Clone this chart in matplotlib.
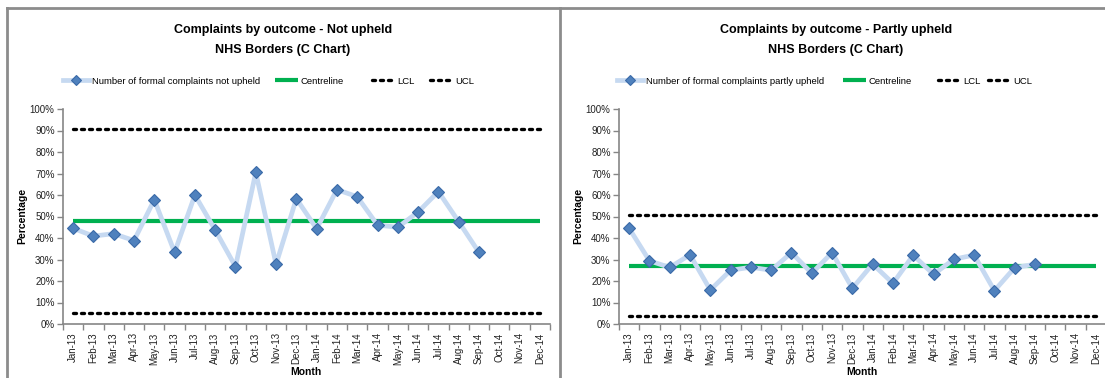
import matplotlib.pyplot as plt
from matplotlib.lines import Line2D
from matplotlib.ticker import FuncFormatter, FixedLocator

# bulan (Jan-13 .. Dec-14)
months = ['Jan-13', 'Feb-13', 'Mar-13', 'Apr-13', 'May-13', 'Jun-13',
          'Jul-13', 'Aug-13', 'Sep-13', 'Oct-13', 'Nov-13', 'Dec-13',
          'Jan-14', 'Feb-14', 'Mar-14', 'Apr-14', 'May-14', 'Jun-14',
          'Jul-14', 'Aug-14', 'Sep-14', 'Oct-14', 'Nov-14', 'Dec-14']

# persentase keluhan (data sampai Sep-14)
not_upheld = [44.5, 40.9, 42.0, 38.8, 57.8, 33.3, 60.0, 43.7, 26.7, 70.5,
              27.8, 58.3, 44.3, 62.5, 59.2, 46.0, 45.0, 52.1, 61.6, 47.6, 33.3]
partly_upheld = [44.5, 29.4, 26.3, 32.2, 15.8, 25.0, 26.4, 25.0, 33.2, 23.6,
                 33.2, 16.6, 27.9, 18.9, 32.0, 23.1, 30.1, 32.1, 15.5, 26.2, 27.8]

# garis tengah dan batas kontrol
not_upheld_limits = {'centre': 47.7, 'lcl': 5.0, 'ucl': 90.5}
partly_upheld_limits = {'centre': 27.0, 'lcl': 3.7, 'ucl': 50.7}

W, H = 1105, 378
fig = plt.figure(figsize=(W / 100, H / 100), dpi=100)

FONT = 'Liberation Sans'
AXIS_GREY = '#868686'


def px(x, y):
    # pixel dari kiri-atas -> koordinat figure
    return x / W, 1 - y / H


def add_entry(handle, label, x, hl=2.4):
    # satu entri legenda per posisi, seperti tata letak Excel
    fig.legend([handle], [label], loc='center left',
               bbox_to_anchor=px(x, 81), bbox_transform=fig.transFigure,
               frameon=False, handlelength=hl, handletextpad=0.3,
               borderpad=0, borderaxespad=0, markerscale=0.8,
               prop={'family': FONT, 'size': 6.8})


def draw_chart(left_px, values, limits, title, series_label, legend_x, centre_x):
    ax = fig.add_axes([left_px / W, 54 / H, 487 / W, 215 / H])
    n = len(months)
    xs = list(range(n))

    ucl, = ax.plot(xs, [limits['ucl']] * n, color='black', lw=2.4,
                   dashes=(0.9, 1.5), dash_capstyle='round')
    lcl, = ax.plot(xs, [limits['lcl']] * n, color='black', lw=2.4,
                   dashes=(0.9, 1.5), dash_capstyle='round')
    centre, = ax.plot(xs, [limits['centre']] * n, color='#00B050', lw=3,
                      solid_capstyle='butt')
    data, = ax.plot(xs[:len(values)], values, color='#C6D9F1', lw=3.4,
                    marker='D', markersize=6, markerfacecolor='#4F81BD',
                    markeredgecolor='#3A6AA8', markeredgewidth=0.8)

    ax.set_xlim(-0.5, n - 0.5)
    ax.set_ylim(0, 100)
    ax.set_yticks(range(0, 101, 10))
    ax.yaxis.set_major_formatter(FuncFormatter(lambda v, _: f'{v:.0f}%'))
    ax.set_xticks(xs)
    ax.set_xticklabels(months, rotation=90)
    ax.xaxis.set_minor_locator(FixedLocator([i - 0.5 for i in range(n + 1)]))
    ax.tick_params(axis='x', which='major', length=0, pad=6,
                   labelsize=7, labelcolor='#222222')
    ax.tick_params(axis='x', which='minor', length=4, color=AXIS_GREY, width=1)
    ax.tick_params(axis='y', length=4, color=AXIS_GREY, width=1, pad=2,
                   labelsize=7, labelcolor='#222222')
    for lab in ax.get_xticklabels() + ax.get_yticklabels():
        lab.set_family(FONT)
    for side in ('top', 'right'):
        ax.spines[side].set_visible(False)
    for side in ('left', 'bottom'):
        ax.spines[side].set_color(AXIS_GREY)
        ax.spines[side].set_linewidth(1.2)

    # judul dua baris
    fig.text(*px(centre_x, 30), title, ha='center', va='center',
             family=FONT, weight='bold', fontsize=9)
    fig.text(*px(centre_x, 50), 'NHS Borders (C Chart)', ha='center',
             va='center', family=FONT, weight='bold', fontsize=9)

    # label sumbu
    fig.text(*px(left_px - 41, 216), 'Percentage', rotation=90, ha='center',
             va='center', family=FONT, weight='bold', fontsize=7.5)
    fig.text(*px(left_px + 243, 377), 'Month', ha='center', va='bottom',
             family=FONT, weight='bold', fontsize=7.5)

    # legenda
    add_entry(data, series_label, legend_x[0], hl=2.8)
    add_entry(centre, 'Centreline', legend_x[1])
    add_entry(lcl, 'LCL', legend_x[2])
    add_entry(ucl, 'UCL', legend_x[3])
    return ax


draw_chart(63, not_upheld, not_upheld_limits,
           'Complaints by outcome - Not upheld',
           'Number of formal complaints not upheld',
           [63, 275, 372, 430], 283)
draw_chart(619, partly_upheld, partly_upheld_limits,
           'Complaints by outcome - Partly upheld',
           'Number of formal complaints partly upheld',
           [617, 843, 938, 988], 836)

# bingkai panel
frame = dict(color='#8C8C8C', lw=2, transform=fig.transFigure)
fig.add_artist(Line2D([6.5 / W, 6.5 / W], [0, 1 - 8 / H], **frame))
fig.add_artist(Line2D([559.5 / W, 559.5 / W], [0, 1 - 8 / H], **frame))
fig.add_artist(Line2D([6.5 / W, 1], [1 - 8 / H, 1 - 8 / H], **frame))

fig.savefig('out.png', dpi=100)
